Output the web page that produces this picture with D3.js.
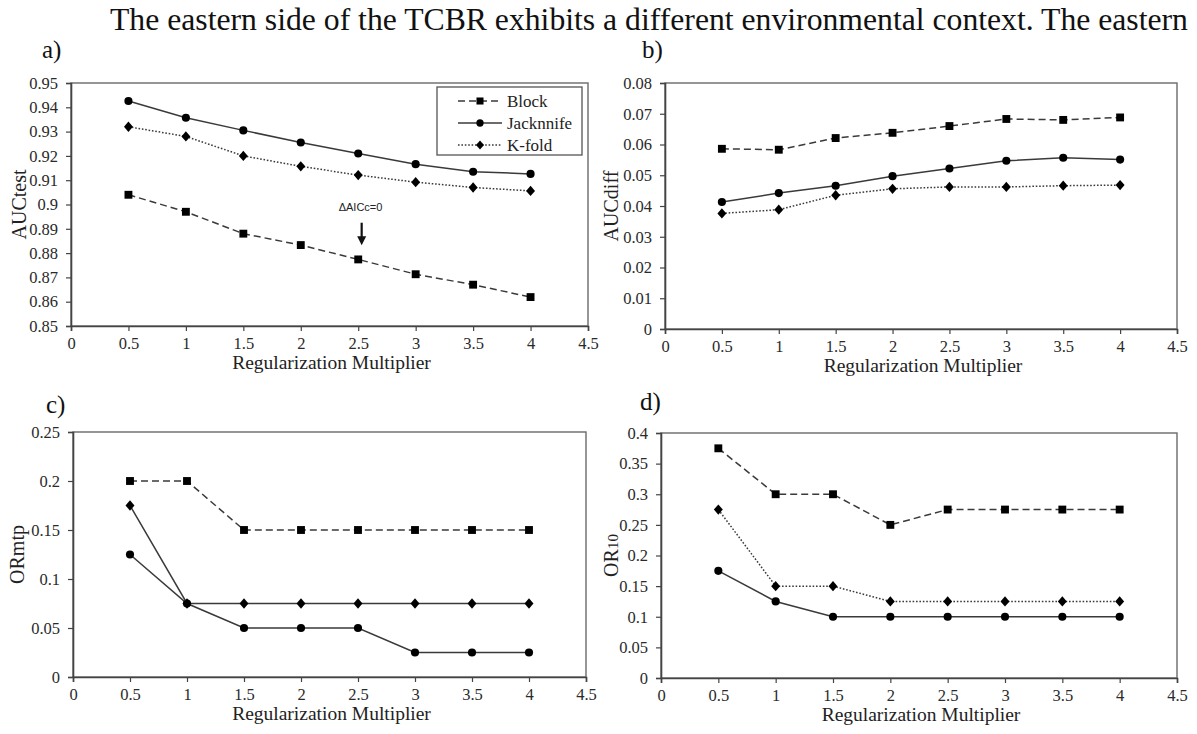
<!DOCTYPE html>
<html>
<head>
<meta charset="utf-8">
<script src="https://cdn.jsdelivr.net/npm/d3@7"></script>
<style>
  html, body { margin: 0; padding: 0; background: #fff; }
  svg { display: block; }
  svg text { font-family: 'Liberation Serif', 'Times New Roman', serif; }
  svg text.sans { font-family: 'Liberation Sans', Arial, sans-serif; }
</style>
</head>
<body>
<svg id="fig" width="1197" height="734"></svg>
<script>
// regularization multipliers (x values)
const multipliers = [0.5, 1, 1.5, 2, 2.5, 3, 3.5, 4];
const xTicks = [0, 0.5, 1, 1.5, 2, 2.5, 3, 3.5, 4, 4.5];
const seriesNames = ['Block', 'Jacknnife', 'K-fold'];

// a) AUCtest
const aucTestBlock = [0.904, 0.897, 0.888, 0.8833, 0.8774, 0.8713, 0.867, 0.8619];
const aucTestJack = [0.9426, 0.9357, 0.9305, 0.9255, 0.921, 0.9166, 0.9135, 0.9126];
const aucTestKfold = [0.932, 0.928, 0.92, 0.9157, 0.9121, 0.9092, 0.907, 0.9056];

// b) AUCdiff
const aucDiffBlock = [0.0586, 0.0583, 0.0621, 0.0638, 0.066, 0.0683, 0.068, 0.0688];
const aucDiffJack = [0.0413, 0.0442, 0.0466, 0.0497, 0.0522, 0.0547, 0.0557, 0.0551];
const aucDiffKfold = [0.0376, 0.0388, 0.0435, 0.0456, 0.0462, 0.0462, 0.0466, 0.0468];

// c) ORmtp
const orMtpBlock = [0.2, 0.2, 0.15, 0.15, 0.15, 0.15, 0.15, 0.15];
const orMtpJack = [0.125, 0.075, 0.05, 0.05, 0.05, 0.025, 0.025, 0.025];
const orMtpKfold = [0.175, 0.075, 0.075, 0.075, 0.075, 0.075, 0.075, 0.075];

// d) OR10
const or10Block = [0.375, 0.3, 0.3, 0.25, 0.275, 0.275, 0.275, 0.275];
const or10Jack = [0.175, 0.125, 0.1, 0.1, 0.1, 0.1, 0.1, 0.1];
const or10Kfold = [0.275, 0.15, 0.15, 0.125, 0.125, 0.125, 0.125, 0.125];

const svg = d3.select('#fig');

// page text above the figure
svg.append('text')
  .attr('x', 110)
  .attr('y', 30)
  .attr('font-size', 31.7)
  .attr('fill', '#111')
  .text('The eastern side of the TCBR exhibits a different environmental context. The eastern');

// squat diamond, like a rotated square
const diamond = {
  draw(ctx, size) {
    const w = Math.sqrt(size / 2.2);
    const h = w * 1.15;
    ctx.moveTo(0, -h);
    ctx.lineTo(w, 0);
    ctx.lineTo(0, h);
    ctx.lineTo(-w, 0);
    ctx.closePath();
  },
};

const styles = {
  Block: { dash: '7,4', symbol: d3.symbolSquare, size: 62 },
  Jacknnife: { dash: null, symbol: d3.symbolCircle, size: 52 },
  'K-fold': { dash: '1.6,1.8', symbol: diamond, size: 44 },
};

const panels = [
  {
    tag: 'a)', tagX: 42, tagY: 58,
    box: { l: 71, r: 588, t: 83, b: 326 },
    yTitle: 'AUCtest', yTitleX: 19,
    yMin: 0.85, yMax: 0.95, yStep: 0.01,
    series: [aucTestBlock, aucTestJack, aucTestKfold],
    legend: true, note: true,
  },
  {
    tag: 'b)', tagX: 642, tagY: 58,
    box: { l: 665, r: 1177, t: 83, b: 329 },
    yTitle: 'AUCdiff', yTitleX: 611,
    yMin: 0, yMax: 0.08, yStep: 0.01,
    series: [aucDiffBlock, aucDiffJack, aucDiffKfold],
  },
  {
    tag: 'c)', tagX: 46, tagY: 413,
    box: { l: 73, r: 586, t: 432, b: 677 },
    yTitle: 'ORmtp', yTitleX: 17,
    yMin: 0, yMax: 0.25, yStep: 0.05,
    series: [orMtpBlock, orMtpJack, orMtpKfold],
    solidKfold: true,
  },
  {
    tag: 'd)', tagX: 640, tagY: 410,
    box: { l: 661, r: 1177, t: 433, b: 678 },
    yTitle: 'OR10', yTitleX: 611,
    yMin: 0, yMax: 0.4, yStep: 0.05,
    series: [or10Block, or10Jack, or10Kfold],
  },
];

const fmt = (v) => String(+v.toFixed(3));

panels.forEach((p) => {
  const g = svg.append('g');
  const x = d3.scaleLinear().domain([0, 4.5]).range([p.box.l, p.box.r]);
  const y = d3.scaleLinear().domain([p.yMin, p.yMax]).range([p.box.b, p.box.t]);
  const nY = Math.round((p.yMax - p.yMin) / p.yStep);
  const yTicks = d3.range(nY + 1).map((i) => p.yMin + i * p.yStep);

  // frame
  g.append('rect')
    .attr('x', p.box.l).attr('y', p.box.t)
    .attr('width', p.box.r - p.box.l).attr('height', p.box.b - p.box.t)
    .attr('fill', 'none').attr('stroke', '#6a6a6a').attr('stroke-width', 1.4);

  // axes
  const yAxis = g.append('g')
    .attr('transform', `translate(${p.box.l},0)`)
    .call(d3.axisLeft(y).tickValues(yTicks).tickFormat(fmt).tickSize(5).tickPadding(8));
  const xAxis = g.append('g')
    .attr('transform', `translate(0,${p.box.b})`)
    .call(d3.axisBottom(x).tickValues(xTicks).tickFormat(fmt).tickSize(5).tickPadding(6));
  [xAxis, yAxis].forEach((ax) => {
    ax.attr('font-family', null);
    ax.select('.domain').attr('stroke', '#444').attr('stroke-width', 1.6);
    ax.selectAll('.tick line').attr('stroke', '#444').attr('stroke-width', 1.2);
    ax.selectAll('.tick text')
      .style('font-family', "'Liberation Serif', 'Times New Roman', serif")
      .attr('font-size', 16.5)
      .attr('fill', '#2a2a2a');
  });

  // panel tag
  g.append('text')
    .attr('x', p.tagX).attr('y', p.tagY)
    .attr('font-size', 25).attr('fill', '#111')
    .text(p.tag);

  // axis titles
  g.append('text')
    .attr('x', (p.box.l + p.box.r) / 2 + 2)
    .attr('y', p.box.b + 43)
    .attr('text-anchor', 'middle')
    .attr('font-size', 19.5).attr('fill', '#222')
    .text('Regularization Multiplier');

  const yt = g.append('text')
    .attr('transform', `translate(${p.yTitleX},${(p.box.t + p.box.b) / 2}) rotate(-90)`)
    .attr('text-anchor', 'middle')
    .attr('dy', '0.35em')
    .attr('font-size', 20).attr('fill', '#222');
  if (p.yTitle === 'OR10') {
    yt.append('tspan').text('OR');
    yt.append('tspan').attr('font-size', 15).text('10');
  } else {
    yt.text(p.yTitle);
  }

  // series lines and markers
  p.series.forEach((vals, i) => {
    const name = seriesNames[i];
    const st = styles[name];
    const pts = multipliers.map((m, k) => [m, vals[k]]);
    const dash = name === 'K-fold' && p.solidKfold ? null : st.dash;
    g.append('path')
      .datum(pts)
      .attr('fill', 'none')
      .attr('stroke', '#3a3a3a')
      .attr('stroke-width', 1.5)
      .attr('stroke-dasharray', dash)
      .attr('d', d3.line().x((d) => x(d[0])).y((d) => y(d[1])));
    g.selectAll(null)
      .data(pts)
      .join('path')
      .attr('transform', (d) => `translate(${x(d[0])},${y(d[1])})`)
      .attr('d', d3.symbol().type(st.symbol).size(st.size))
      .attr('fill', '#000');
  });

  if (p.legend) {
    const lg = g.append('g');
    lg.append('rect')
      .attr('x', 437).attr('y', 87).attr('width', 145).attr('height', 68)
      .attr('fill', '#fff').attr('stroke', '#555').attr('stroke-width', 1.3);
    seriesNames.forEach((name, i) => {
      const st = styles[name];
      const ly = 101 + i * 22;
      lg.append('line')
        .attr('x1', 458).attr('x2', 502).attr('y1', ly).attr('y2', ly)
        .attr('stroke', '#3a3a3a').attr('stroke-width', 1.4)
        .attr('stroke-dasharray', st.dash);
      lg.append('path')
        .attr('transform', `translate(480,${ly})`)
        .attr('d', d3.symbol().type(st.symbol).size(st.size * 0.8))
        .attr('fill', '#000');
      lg.append('text')
        .attr('x', 507).attr('y', ly).attr('dy', '0.35em')
        .attr('font-size', 17).attr('fill', '#222')
        .text(name);
    });
  }

  if (p.note) {
    // ΔAICc annotation with arrow pointing at the selected multiplier
    g.append('text')
      .attr('class', 'sans')
      .attr('x', x(2.52)).attr('y', y(0.8988)).attr('dy', '0.35em')
      .attr('text-anchor', 'middle')
      .attr('font-size', 11).attr('fill', '#222')
      .text('ΔAICc=0');
    g.append('line')
      .attr('x1', x(2.53)).attr('x2', x(2.53))
      .attr('y1', y(0.8925)).attr('y2', y(0.8853))
      .attr('stroke', '#111').attr('stroke-width', 2.2);
    const ax = x(2.53);
    const ay = y(0.8832);
    g.append('path')
      .attr('d', `M${ax - 4.5},${ay - 9} L${ax + 4.5},${ay - 9} L${ax},${ay} Z`)
      .attr('fill', '#111');
  }
});
</script>
</body>
</html>
